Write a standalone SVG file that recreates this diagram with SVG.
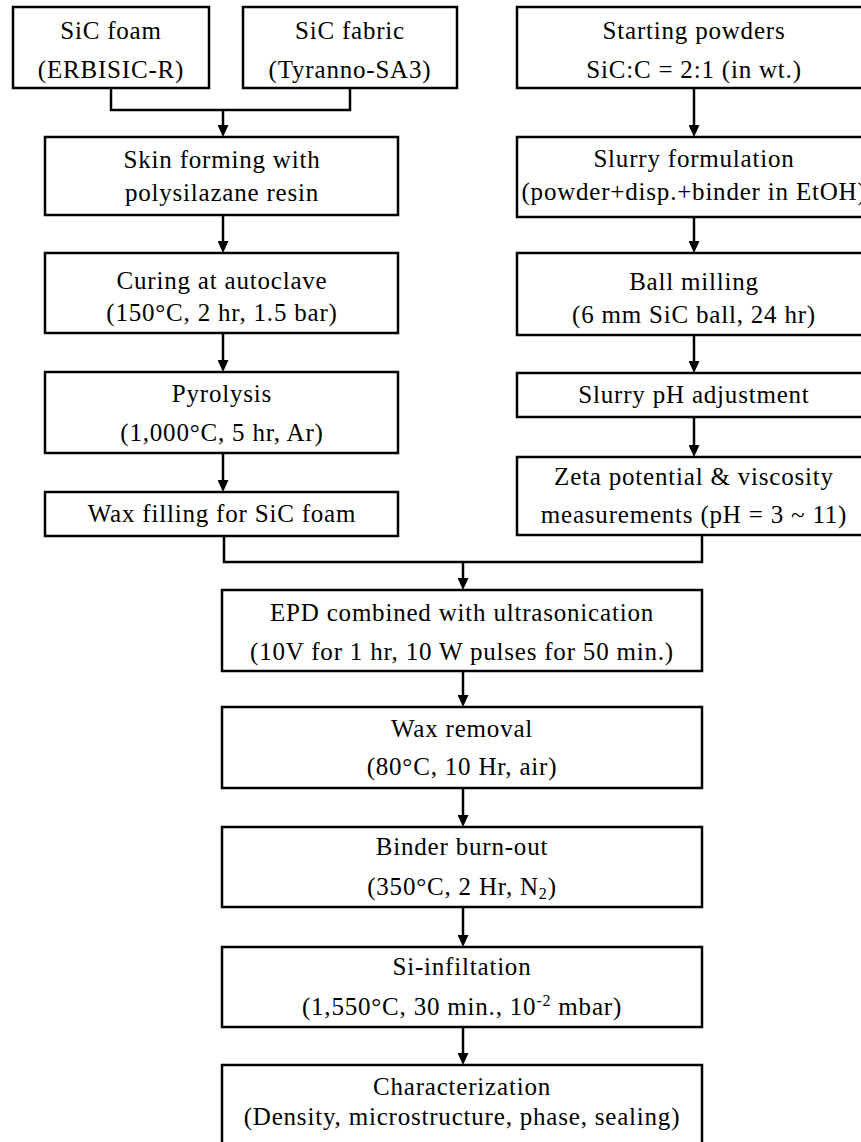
<svg xmlns="http://www.w3.org/2000/svg" width="861" height="1142" viewBox="0 0 861 1142">
<style>
.box{fill:#fff;stroke:#000;stroke-width:2.5}
.t{font-family:"Liberation Serif","Times New Roman",serif;font-size:25px;letter-spacing:0.8px;fill:#000;text-anchor:middle}
.c{fill:none;stroke:#000;stroke-width:2.5}
.a{fill:none;stroke:#000;stroke-width:2.5;marker-end:url(#arr)}
</style>
<defs>
<marker id="arr" markerUnits="userSpaceOnUse" viewBox="0 0 12 11" markerWidth="12" markerHeight="11" refX="4" refY="5.5" orient="auto">
<path d="M0,0 L12,5.5 L0,11 z" fill="#000"/>
</marker>
</defs>
<rect width="861" height="1142" fill="#fff"/>
<g id="connectors">
<path class="c" d="M111,88 V110 H350 V88"/>
<path class="a" d="M223,110 V129"/>
<path class="a" d="M223,215 V245"/>
<path class="a" d="M223,333 V364"/>
<path class="a" d="M223,453 V484"/>
<path class="a" d="M694,88 V129"/>
<path class="a" d="M694,217 V245"/>
<path class="a" d="M694,335 V365"/>
<path class="a" d="M694,417 V449"/>
<path class="c" d="M224,536 V562 H702 V535"/>
<path class="a" d="M463,562 V582"/>
<path class="a" d="M463,671 V699"/>
<path class="a" d="M463,788 V819"/>
<path class="a" d="M463,907 V939"/>
<path class="a" d="M463,1027 V1057"/>
</g>
<g id="sic-foam">
<rect class="box" x="13" y="7" width="196" height="81"/>
<text class="t" x="111" y="39">SiC foam</text>
<text class="t" x="111" y="78">(ERBISIC-R)</text>
</g>
<g id="sic-fabric">
<rect class="box" x="243" y="7" width="214" height="81"/>
<text class="t" x="350" y="39">SiC fabric</text>
<text class="t" x="350" y="78">(Tyranno-SA3)</text>
</g>
<g id="starting-powders">
<rect class="box" x="517" y="7" width="354" height="81"/>
<text class="t" x="694" y="39">Starting powders</text>
<text class="t" x="694" y="78">SiC:C = 2:1 (in wt.)</text>
</g>
<g id="skin-forming">
<rect class="box" x="45" y="137" width="353" height="78"/>
<text class="t" x="222" y="168">Skin forming with</text>
<text class="t" x="222" y="201">polysilazane resin</text>
</g>
<g id="slurry-formulation">
<rect class="box" x="517" y="137" width="354" height="80"/>
<text class="t" x="694" y="167">Slurry formulation</text>
<text class="t" x="694" y="200">(powder+disp.+binder in EtOH)</text>
</g>
<g id="curing">
<rect class="box" x="45" y="253" width="353" height="80"/>
<text class="t" x="222" y="289">Curing at autoclave</text>
<text class="t" x="222" y="321">(150°C, 2 hr, 1.5 bar)</text>
</g>
<g id="ball-milling">
<rect class="box" x="517" y="253" width="354" height="82"/>
<text class="t" x="694" y="290">Ball milling</text>
<text class="t" x="694" y="323">(6 mm SiC ball, 24 hr)</text>
</g>
<g id="pyrolysis">
<rect class="box" x="45" y="372" width="353" height="81"/>
<text class="t" x="222" y="402">Pyrolysis</text>
<text class="t" x="222" y="441">(1,000°C, 5 hr, Ar)</text>
</g>
<g id="ph-adjustment">
<rect class="box" x="517" y="373" width="354" height="44"/>
<text class="t" x="694" y="403">Slurry pH adjustment</text>
</g>
<g id="wax-filling">
<rect class="box" x="45" y="492" width="353" height="44"/>
<text class="t" x="222" y="522">Wax filling for SiC foam</text>
</g>
<g id="zeta">
<rect class="box" x="517" y="457" width="354" height="78"/>
<text class="t" x="694" y="485">Zeta potential &amp; viscosity</text>
<text class="t" x="694" y="523">measurements (pH = 3 ~ 11)</text>
</g>
<g id="epd">
<rect class="box" x="222" y="590" width="480" height="81"/>
<text class="t" x="462" y="621">EPD combined with ultrasonication</text>
<text class="t" x="462" y="660">(10V for 1 hr, 10 W pulses for 50 min.)</text>
</g>
<g id="wax-removal">
<rect class="box" x="222" y="707" width="480" height="81"/>
<text class="t" x="462" y="737">Wax removal</text>
<text class="t" x="462" y="775">(80°C, 10 Hr, air)</text>
</g>
<g id="binder-burnout">
<rect class="box" x="222" y="827" width="480" height="80"/>
<text class="t" x="462" y="855">Binder burn-out</text>
<text class="t" x="462" y="895">(350°C, 2 Hr, N<tspan font-size="16" dy="4">2</tspan><tspan dy="-4">)</tspan></text>
</g>
<g id="si-infiltration">
<rect class="box" x="222" y="947" width="480" height="80"/>
<text class="t" x="462" y="975">Si-infiltation</text>
<text class="t" x="462" y="1015">(1,550°C, 30 min., 10<tspan font-size="16" dy="-9">-2</tspan><tspan dy="9"> mbar)</tspan></text>
</g>
<g id="characterization">
<rect class="box" x="222" y="1065" width="480" height="95"/>
<text class="t" x="462" y="1095">Characterization</text>
<text class="t" x="462" y="1125">(Density, microstructure, phase, sealing)</text>
</g>
</svg>
